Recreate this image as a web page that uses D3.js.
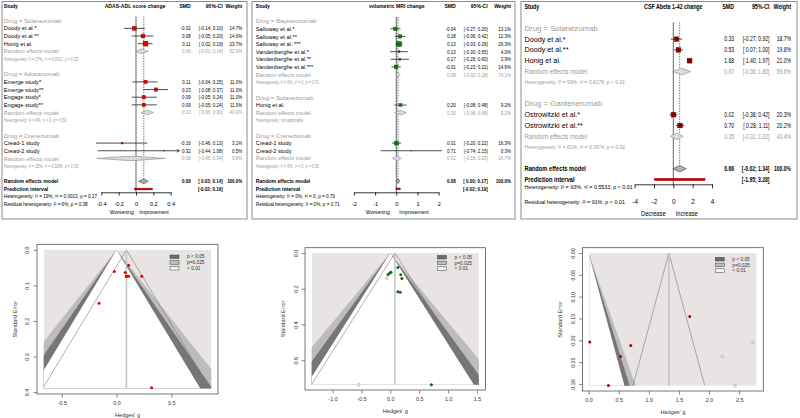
<!DOCTYPE html>
<html><head><meta charset="utf-8">
<script src="https://cdn.jsdelivr.net/npm/d3@7"></script>
<style>
html,body{margin:0;padding:0;background:#fff;}
svg{display:block;font-family:"Liberation Sans",Arial,sans-serif;}
</style></head><body>
<script>
// ================= DATA =================
// Panel A: ADAS-ADL score change
const adlGroups = ["Solanezumab", "Aducanumab", "Crenezumab"];
const adlStudies = ["Doody et al.*", "Doody et al.**", "Honig et al.", "Emerge study*", "Emerge study**", "Engage study*", "Engage study**", "Cread-1 study", "Cread-2 study"];
const adlStudyGroup = [0, 0, 0, 1, 1, 1, 1, 2, 2];
const adlSMD = [-0.02, 0.08, 0.11, 0.11, 0.23, 0.09, 0.09, -0.16, 0.32];
const adlLower = [-0.14, -0.05, 0.02, -0.04, 0.08, -0.05, -0.05, -0.46, -0.44];
const adlUpper = [0.10, 0.20, 0.19, 0.25, 0.37, 0.24, 0.24, 0.13, 1.08];
const adlWeight = [14.7, 14.6, 23.7, 11.0, 11.0, 11.0, 11.0, 3.1, 0.5];
const adlGroupSMD = [0.06, 0.13, -0.06];
const adlGroupLower = [-0.01, 0.06, -0.45];
const adlGroupUpper = [0.14, 0.20, 0.34];
const adlGroupWeight = [52.9, 43.9, 3.6];
const adlGroupHet = ["Heterogeneity: I² = 27%, τ² = 0.0012, p = 0.25", "Heterogeneity: I² = 0%, τ² = 0, p = 0.51", "Heterogeneity: I² = 25%, τ² = 0.0284, p = 0.25"];
const adlOverall = [0.09, 0.03, 0.14];
const adlPI = [-0.02, 0.19];
const adlHet = "Heterogeneity: I² = 19%, τ² = 0.0013, p = 0.27";
const adlResid = "Residual heterogeneity: I² = 6%, p = 0.38";
const adlTicks = [-0.4, -0.2, 0, 0.2, 0.4];
const adlTickLabels = ["-0.4", "-0.2", "0", "0.2", "0.4"];

// Panel B: volumetric MRI change
const mriGroups = ["Bapineuzumab", "Solanezumab", "Crenezumab"];
const mriStudies = ["Salloway et al.*", "Salloway et al.**", "Salloway et al. ***", "Vandenberghe et al.*", "Vandenberghe et al.**", "Vandenberghe et al.***", "Honig et al.", "Cread-1 study", "Cread-2 study"];
const mriStudyGroup = [0, 0, 0, 0, 0, 0, 1, 2, 2];
const mriSMD = [-0.04, 0.18, 0.13, 0.13, 0.17, -0.01, 0.20, 0.01, 0.71];
const mriLower = [-0.27, -0.06, -0.03, -0.30, -0.26, -0.23, -0.08, -0.20, -0.74];
const mriUpper = [0.20, 0.42, 0.29, 0.55, 0.60, 0.21, 0.48, 0.22, 2.15];
const mriWeight = [13.1, 12.3, 26.3, 4.0, 3.9, 14.6, 9.2, 16.3, 0.3];
const mriGroupSMD = [0.08, 0.20, 0.02];
const mriGroupLower = [-0.02, -0.08, -0.18];
const mriGroupUpper = [0.18, 0.48, 0.23];
const mriGroupWeight = [74.1, 9.2, 16.7];
const mriGroupHet = ["Heterogeneity: I² = 0%, τ² = 0, p = 0.72", "Heterogeneity: not applicable", "Heterogeneity: I² = 0%, τ² = 0, p = 0.35"];
const mriOverall = [0.08, 0.00, 0.17];
const mriPI = [-0.02, 0.19];
const mriHet = "Heterogeneity: I² = 0%, τ² = 0, p = 0.79";
const mriResid = "Residual heterogeneity: I² = 0%, p = 0.71";
const mriTicks = [-2, -1, 0, 1, 2];
const mriTickLabels = ["-2", "-1", "0", "1", "2"];

// Panel C: CSF Abeta 1-42 change
const csfGroups = ["Solanezumab", "Gantenerumab"];
const csfStudies = ["Doody et al.*", "Doody et al.**", "Honig et al.", "Ostrowitzki et al.*", "Ostrowitzki et al.**"];
const csfStudyGroup = [0, 0, 0, 1, 1];
const csfSMD = [0.33, 0.53, 1.68, 0.02, 0.70];
const csfLower = [-0.27, 0.07, 1.40, -0.38, 0.28];
const csfUpper = [0.92, 1.00, 1.97, 0.42, 1.11];
const csfWeight = [18.7, 19.8, 21.0, 20.3, 20.2];
const csfGroupSMD = [0.87, 0.35];
const csfGroupLower = [-0.06, -0.31];
const csfGroupUpper = [1.80, 1.02];
const csfGroupWeight = [59.6, 40.4];
const csfGroupHet = ["Heterogeneity: I² = 93%, τ² = 0.6178, p < 0.01", "Heterogeneity: I² = 81%, τ² = 0.1874, p = 0.02"];
const csfOverall = [0.66, -0.02, 1.34];
const csfPI = [-1.95, 3.28];
const csfHet = "Heterogeneity: I² = 93%, τ² = 0.5533, p < 0.01";
const csfResid = "Residual heterogeneity: I² = 91%, p < 0.01";
const csfTicks = [-4, -2, 0, 2, 4];
const csfTickLabels = ["-4", "-2", "0", "2", "4"];

// Funnel plots
const contourZ = [2.576, 2.241, 1.960];
const contourLegend = ["p < 0.05", "p=0.025", "< 0.01"];
const adlFunnelRef = 0.09, mriFunnelRef = 0.08, csfFunnelRef = 1.333;
const adlFunnelXlim = [-0.665, 0.865], mriFunnelXlim = [-1.36, 1.53], csfFunnelXlim = [0.01, 2.79];
const adlFunnelSEmax = 0.39, mriFunnelSEmax = 0.737, csfFunnelSEmax = 0.304;
const mriFilledG = [-0.06, -0.55];
const mriFilledSE = [0.141, 0.737];
const csfFilledG = [2.22, 2.73, 2.43];
const csfFilledSE = [0.237, 0.205, 0.304];
const adlFunnelXTicks = [-0.5, 0, 0.5], adlFunnelYTicks = [0, 0.1, 0.2, 0.3, 0.4];
const mriFunnelXTicks = [-1, -0.5, 0, 0.5, 1, 1.5], mriFunnelYTicks = [0, 0.2, 0.4, 0.6];
const csfFunnelXTicks = [0, 0.5, 1, 1.5, 2, 2.5], csfFunnelYTicks = [0, 0.05, 0.10, 0.15, 0.20, 0.25, 0.30];

// ================= DRAWING =================
const svg = d3.select("body").append("svg").attr("width", 800).attr("height", 418);
const GRAY = "#9a9a9a";

function fmt2(v) { return (v < 0 ? "-" : "") + Math.abs(v).toFixed(2); }
function fmtCI(lo, hi) { return "[" + (lo >= 0 ? " " : "") + fmt2(lo) + "; " + fmt2(hi) + "]"; }
function fmtW(w) { return w.toFixed(1) + "%"; }

function txt(g, x, y, s, f, anchor, weight, fill) {
  return g.append("text")
    .attr("transform", `translate(${x},${y}) scale(${f[1]},1)`)
    .attr("dy", "0.35em")
    .attr("text-anchor", anchor || "start")
    .attr("font-size", f[0])
    .attr("font-weight", weight || "normal")
    .attr("fill", fill || "#000")
    .text(s);
}

function drawForest(P) {
  const g = svg.append("g");
  const [bx0, by0, bx1, by1] = P.box;
  g.append("rect").attr("x", bx0).attr("y", by0).attr("width", bx1 - bx0).attr("height", by1 - by0)
    .attr("fill", "none").attr("stroke", "#8c8c8c").attr("stroke-width", 1);
  const x = d3.scaleLinear().domain(P.domain).range(P.range);
  const rowY = i => P.row0 + i * P.step;
  const rows = [];
  let r = 0;
  P.groups.forEach((name, gi) => {
    rows.push({ kind: "head", gi, r: r++ });
    P.studyGroup.forEach((sg, si) => { if (sg === gi) rows.push({ kind: "study", si, r: r++ }); });
    rows.push({ kind: "re", gi, r: r++ });
    rows.push({ kind: "het", gi, r: r++ });
    r++;
  });
  const rOverall = r, rPI = r + 1;
  const yHet = P.yHet != null ? P.yHet : rowY(r + 2);
  const yResid = P.yResid != null ? P.yResid : rowY(r + 3);
  const yTop = rowY(0) - 0.55 * P.step;
  const F = P.fonts;

  // reference lines
  g.append("line").attr("x1", x(0)).attr("x2", x(0)).attr("y1", yTop).attr("y2", P.axisY)
    .attr("stroke", "#555").attr("stroke-width", 0.9);
  g.append("line").attr("x1", x(P.overall[0])).attr("x2", x(P.overall[0])).attr("y1", yTop).attr("y2", rowY(rOverall))
    .attr("stroke", "#444").attr("stroke-width", 0.8).attr("stroke-dasharray", "1.3,1.3");

  // header
  txt(g, P.studyX, P.headY, "Study", F.head, "start", "bold");
  txt(g, P.headCenter, P.headY, P.title, F.head, "middle", "bold");
  txt(g, P.colSMD, P.headY, "SMD", F.head, "end", "bold");
  txt(g, P.colCI, P.headY, "95%-CI", F.head, "end", "bold");
  txt(g, P.colW, P.headY, "Weight", F.head, "end", "bold");

  const diamond = (est, lo, hi, y, h, fill, stroke) => {
    g.append("path").attr("d", `M${x(lo)},${y} L${x(est)},${y - h} L${x(hi)},${y} L${x(est)},${y + h} Z`)
      .attr("fill", fill).attr("stroke", stroke).attr("stroke-width", 0.6);
  };

  rows.forEach(row => {
    const y = rowY(row.r);
    if (row.kind === "head") {
      txt(g, P.studyX, y, "Drug = " + P.groups[row.gi], F.grp, "start", "normal", GRAY);
    } else if (row.kind === "study") {
      const i = row.si;
      txt(g, P.studyX, y, P.studies[i], F.name);
      const lo = Math.max(P.lower[i], P.xlim[0]), hi = Math.min(P.upper[i], P.xlim[1]);
      g.append("line").attr("x1", x(lo)).attr("x2", x(hi)).attr("y1", y).attr("y2", y)
        .attr("stroke", "#222").attr("stroke-width", 0.8);
      if (P.upper[i] > P.xlim[1]) {
        const xe = x(P.xlim[1]);
        g.append("path").attr("d", `M${xe - 2.6},${y - 1.4} L${xe},${y} L${xe - 2.6},${y + 1.4}`)
          .attr("fill", "none").attr("stroke", "#222").attr("stroke-width", 0.7);
      }
      const s = Math.max(0.8, P.sq * Math.sqrt(P.weight[i]));
      g.append("rect").attr("x", x(P.smd[i]) - s / 2).attr("y", y - s / 2).attr("width", s).attr("height", s)
        .attr("fill", P.color).attr("stroke", P.colorDark).attr("stroke-width", 0.4);
      txt(g, P.colSMD, y, fmt2(P.smd[i]), F.num, "end");
      txt(g, P.colCI, y, fmtCI(P.lower[i], P.upper[i]), F.num, "end");
      txt(g, P.colW, y, fmtW(P.weight[i]), F.num, "end");
    } else if (row.kind === "re") {
      const gi = row.gi;
      txt(g, P.studyX, y, "Random effects model", F.re, "start", "normal", GRAY);
      diamond(P.gSMD[gi], P.gLower[gi], P.gUpper[gi], y, P.dh, "#dcdcdc", "#858585");
      txt(g, P.colSMD, y, fmt2(P.gSMD[gi]), F.num, "end", "normal", GRAY);
      txt(g, P.colCI, y, fmtCI(P.gLower[gi], P.gUpper[gi]), F.num, "end", "normal", GRAY);
      txt(g, P.colW, y, fmtW(P.gWeight[gi]), F.num, "end", "normal", GRAY);
    } else if (row.kind === "het") {
      txt(g, P.studyX, y, P.gHet[row.gi], F.het, "start", "normal", GRAY);
    }
  });

  // overall
  const yo = rowY(rOverall);
  txt(g, P.studyX, yo, "Random effects model", F.bold, "start", "bold");
  diamond(P.overall[0], P.overall[1], P.overall[2], yo, P.dh, "#b0b0b0", "#3a3a3a");
  txt(g, P.colSMD, yo, fmt2(P.overall[0]), F.num, "end", "bold");
  txt(g, P.colCI, yo, fmtCI(P.overall[1], P.overall[2]), F.num, "end", "bold");
  txt(g, P.colW, yo, "100.0%", F.num, "end", "bold");
  const yp = rowY(rPI);
  txt(g, P.studyX, yp, "Prediction interval", F.bold, "start", "bold");
  g.append("rect").attr("x", x(P.pi[0])).attr("y", yp - P.pih / 2).attr("width", x(P.pi[1]) - x(P.pi[0])).attr("height", P.pih)
    .attr("fill", "#d40000").attr("stroke", "#7a0000").attr("stroke-width", 0.4);
  txt(g, P.colCI, yp, fmtCI(P.pi[0], P.pi[1]), F.num, "end", "bold");
  txt(g, P.studyX, yHet, P.het, F.hetAll);
  txt(g, P.studyX, yResid, P.resid, F.hetAll);

  // axis
  const ax = g.append("g").attr("transform", `translate(0,${P.axisY})`)
    .call(d3.axisBottom(x).tickValues(P.ticks).tickFormat(d => P.tickLabels[P.ticks.indexOf(d)]).tickSize(P.tickLen).tickSizeOuter(0));
  ax.attr("font-family", null).attr("font-size", null);
  ax.select(".domain").attr("stroke", "#000").attr("stroke-width", 0.8);
  ax.selectAll(".tick line").attr("stroke", "#000").attr("stroke-width", 0.8);
  ax.selectAll(".tick text").attr("y", P.tickLabelY - P.axisY).attr("dy", "0.35em")
    .attr("font-size", F.tick[0]).attr("fill", "#000");
  txt(g, P.xlabPos[0], P.xlabY, P.xlab[0], F.tick, "middle");
  txt(g, P.xlabPos[1], P.xlabY, P.xlab[1], F.tick, "middle");
}

const smallFonts = {
  head: [6, 0.85], name: [6, 0.95], grp: [6, 1.02], re: [6, 0.92], het: [4.6, 0.8],
  bold: [6, 0.85], num: [5.6, 0.8], hetAll: [5.2, 0.89], tick: [5.6, 0.9]
};
const bigFonts = {
  head: [6.6, 0.8], name: [7.2, 1.0], grp: [7.2, 1.08], re: [7, 0.9], het: [5.8, 0.86],
  bold: [7, 0.82], num: [6.3, 0.8], hetAll: [6.1, 0.88], tick: [6.4, 0.9]
};

drawForest({
  box: [2, 1.5, 247, 219], title: "ADAS-ADL score change",
  groups: adlGroups, studies: adlStudies, studyGroup: adlStudyGroup, smd: adlSMD, lower: adlLower, upper: adlUpper, weight: adlWeight,
  gSMD: adlGroupSMD, gLower: adlGroupLower, gUpper: adlGroupUpper, gWeight: adlGroupWeight, gHet: adlGroupHet,
  overall: adlOverall, pi: adlPI, het: adlHet, resid: adlResid, ticks: adlTicks, tickLabels: adlTickLabels,
  domain: [-0.4, 0.4], range: [101.3, 170.7], xlim: [-0.5, 0.5],
  studyX: 3.8, headY: 5.6, headCenter: 135, colSMD: 190.7, colCI: 222.7, colW: 242.3,
  row0: 20.7, step: 7.65, axisY: 192.3, tickLen: 3.3, tickLabelY: 204.3, xlabY: 211.7,
  xlab: ["Worsening", "Improvement"], xlabPos: [121.7, 154],
  color: "#e00000", colorDark: "#8a0000", sq: 1.0, dh: 2.3, pih: 1.8, fonts: smallFonts
});

drawForest({
  box: [252, 1.5, 515, 219], title: "volumetric MRI change",
  groups: mriGroups, studies: mriStudies, studyGroup: mriStudyGroup, smd: mriSMD, lower: mriLower, upper: mriUpper, weight: mriWeight,
  gSMD: mriGroupSMD, gLower: mriGroupLower, gUpper: mriGroupUpper, gWeight: mriGroupWeight, gHet: mriGroupHet,
  overall: mriOverall, pi: mriPI, het: mriHet, resid: mriResid, ticks: mriTicks, tickLabels: mriTickLabels,
  domain: [-2, 2], range: [353.9, 438.7], xlim: [-2.3, 2.3],
  studyX: 255.8, headY: 5.8, headCenter: 396.7, colSMD: 455.7, colCI: 487.7, colW: 511,
  row0: 21.2, step: 7.62, axisY: 192.3, tickLen: 3.3, tickLabelY: 204.3, xlabY: 211.7,
  xlab: ["Worsening", "Improvement"], xlabPos: [377.7, 414],
  color: "#0b7a0b", colorDark: "#004000", sq: 0.95, dh: 2.3, pih: 1.8, fonts: smallFonts
});

drawForest({
  box: [521, 1.5, 797, 219], title: "CSF Abeta 1-42 change",
  groups: csfGroups, studies: csfStudies, studyGroup: csfStudyGroup, smd: csfSMD, lower: csfLower, upper: csfUpper, weight: csfWeight,
  gSMD: csfGroupSMD, gLower: csfGroupLower, gUpper: csfGroupUpper, gWeight: csfGroupWeight, gHet: csfGroupHet,
  overall: csfOverall, pi: csfPI, het: csfHet, resid: csfResid, ticks: csfTicks, tickLabels: csfTickLabels,
  domain: [-4, 4], range: [634.6, 712], xlim: [-4.5, 4.5],
  studyX: 524.5, headY: 6.2, headCenter: 673.3, colSMD: 734, colCI: 769.5, colW: 791,
  row0: 28.3, step: 10.8, axisY: 184.3, tickLen: 4, tickLabelY: 201.7, xlabY: 213.3, yHet: 187, yResid: 201.7,
  xlab: ["Decrease", "Increase"], xlabPos: [653.3, 686.7],
  color: "#8b0000", colorDark: "#4a0000", sq: 1.05, dh: 3.3, pih: 2.4, fonts: bigFonts
});

// ---------- Funnel plots ----------
function fmtTick(dec) { return d => (d < 0 ? "-" : "") + Math.abs(d).toFixed(dec); }

function drawFunnel(P) {
  const [bx0, by0, bx1, by1] = P.box;
  const [xa, xb] = P.xlim, rr = xb - xa, sm = P.seMax;
  const x = d3.scaleLinear().domain([xa - 0.04 * rr, xb + 0.04 * rr]).range([bx0, bx1]);
  const y = d3.scaleLinear().domain([-0.04 * sm, 1.04 * sm]).range([by0, by1]);
  const g = svg.append("g");
  const cid = "clip" + P.id;
  g.append("clipPath").attr("id", cid).append("rect")
    .attr("x", x(xa)).attr("y", y(0)).attr("width", x(xb) - x(xa)).attr("height", y(sm) - y(0));
  const reg = g.append("g").attr("clip-path", `url(#${cid})`);
  reg.append("rect").attr("x", x(xa)).attr("y", y(0)).attr("width", x(xb) - x(xa)).attr("height", y(sm) - y(0))
    .attr("fill", "#e8e4e4");
  const shades = ["#bebbbb", "#767676", "#ffffff"];
  const far = sm * 1.3;
  contourZ.forEach((z, k) => {
    reg.append("path").attr("d", d3.line()([[x(0), y(0)], [x(-z * far), y(far)], [x(z * far), y(far)]]) + "Z")
      .attr("fill", shades[k]);
  });
  // pseudo confidence lines
  reg.append("path").attr("d", d3.line()([[x(P.ref - 1.96 * sm), y(sm)], [x(P.ref), y(0)], [x(P.ref + 1.96 * sm), y(sm)]]))
    .attr("fill", "none").attr("stroke", "#7a7a7a").attr("stroke-width", 0.6);
  g.append("line").attr("x1", x(P.ref)).attr("x2", x(P.ref)).attr("y1", y(0)).attr("y2", y(sm))
    .attr("stroke", "#c4c4c4").attr("stroke-width", 1.5);
  // imputed studies
  P.fillG.forEach((v, i) => {
    g.append("circle").attr("cx", x(v)).attr("cy", y(P.fillSE[i])).attr("r", 1.3)
      .attr("fill", "#fff").attr("stroke", "#8a8a8a").attr("stroke-width", 0.6);
  });
  // observed studies
  P.g.forEach((v, i) => {
    g.append("circle").attr("cx", x(v)).attr("cy", y(P.se[i])).attr("r", 1.5).attr("fill", P.color);
  });
  g.append("rect").attr("x", bx0).attr("y", by0).attr("width", bx1 - bx0).attr("height", by1 - by0)
    .attr("fill", "none").attr("stroke", "#555").attr("stroke-width", 0.8);
  // axes
  const ax = g.append("g").attr("transform", `translate(0,${by1})`)
    .call(d3.axisBottom(x).tickValues(P.xTicks).tickFormat(fmtTick(1)).tickSize(3.5));
  ax.attr("font-family", null).attr("font-size", null);
  ax.select(".domain").remove();
  ax.selectAll(".tick line").attr("stroke", "#555").attr("stroke-width", 0.7);
  ax.selectAll(".tick text").attr("y", 9).attr("dy", "0.35em").attr("font-size", 5.4).attr("fill", "#333");
  const ay = g.append("g").attr("transform", `translate(${bx0},0)`)
    .call(d3.axisLeft(y).tickValues(P.yTicks).tickFormat(fmtTick(P.yDec)).tickSize(3.5));
  ay.attr("font-family", null).attr("font-size", null);
  ay.select(".domain").remove();
  ay.selectAll(".tick line").attr("stroke", "#555").attr("stroke-width", 0.7);
  ay.selectAll(".tick text").attr("x", 0).attr("y", -P.yLabOff).attr("dy", null).attr("text-anchor", "middle")
    .attr("transform", "rotate(-90)").attr("font-size", 5.4).attr("fill", "#333");
  g.append("text").attr("transform", `translate(${bx0 - 22},${(by0 + by1) / 2}) rotate(-90)`)
    .attr("dy", "0.35em").attr("text-anchor", "middle").attr("font-size", 5.6).attr("fill", "#333").text("Standard Error");
  g.append("text").attr("x", (bx0 + bx1) / 2).attr("y", by1 + 21).attr("dy", "0.35em")
    .attr("text-anchor", "middle").attr("font-size", 5.6).attr("fill", "#333").text("Hedges' g");
  // legend
  const lfill = ["#6b6b6b", "#bdbdbd", "#f4f4f4"];
  contourLegend.forEach((lab, k) => {
    const ly = by0 + P.legY + k * 5.7;
    g.append("rect").attr("x", bx1 - 48).attr("y", ly - 1.8).attr("width", 9).attr("height", 3.6)
      .attr("fill", lfill[k]).attr("stroke", "#444").attr("stroke-width", 0.5);
    g.append("text").attr("x", bx1 - 31).attr("y", ly).attr("dy", "0.35em").attr("font-size", 4.8)
      .attr("fill", "#333").text(lab);
  });
}

const seFromCI = (lo, hi) => lo.map((l, i) => (hi[i] - l) / 3.92);

drawFunnel({
  id: "a", box: [37, 244.3, 218, 394], xlim: adlFunnelXlim, seMax: adlFunnelSEmax, ref: adlFunnelRef,
  g: adlSMD, se: seFromCI(adlLower, adlUpper), fillG: [], fillSE: [], color: "#e00000",
  xTicks: adlFunnelXTicks, yTicks: adlFunnelYTicks, yDec: 1, yLabOff: 8.3, legY: 12.5
});
drawFunnel({
  id: "b", box: [305, 247.7, 485.5, 390], xlim: mriFunnelXlim, seMax: mriFunnelSEmax, ref: mriFunnelRef,
  g: mriSMD, se: seFromCI(mriLower, mriUpper), fillG: mriFilledG, fillSE: mriFilledSE, color: "#0b6b0b",
  xTicks: mriFunnelXTicks, yTicks: mriFunnelYTicks, yDec: 1, yLabOff: 7.3, legY: 9.5
});
drawFunnel({
  id: "c", box: [582.5, 247.7, 763.3, 391], xlim: csfFunnelXlim, seMax: csfFunnelSEmax, ref: csfFunnelRef,
  g: csfSMD, se: seFromCI(csfLower, csfUpper), fillG: csfFilledG, fillSE: csfFilledSE, color: "#b00000",
  xTicks: csfFunnelXTicks, yTicks: csfFunnelYTicks, yDec: 2, yLabOff: 7.5, legY: 11.5
});
</script>
</body></html>
